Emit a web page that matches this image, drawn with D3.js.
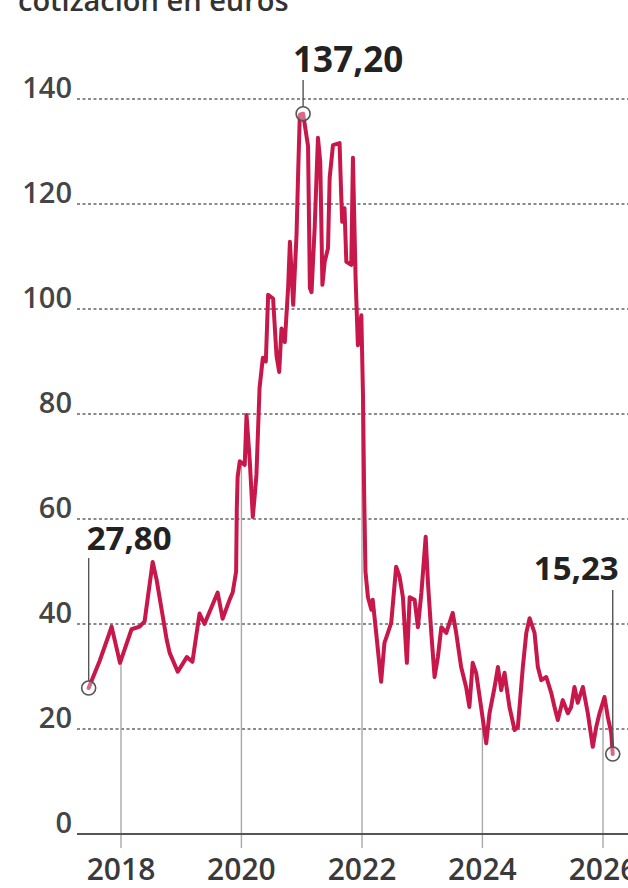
<!DOCTYPE html>
<html>
<head>
<meta charset="utf-8">
<script src="https://cdn.jsdelivr.net/npm/d3@7"></script>
<style>
  html, body { margin: 0; padding: 0; background: #fff; }
  svg { display: block; }
</style>
</head>
<body>
<svg id="chart" width="628" height="888"></svg>
<script>
// ---- Data ----
const title = "cotización en euros";
const dates = [
  "2017-06-19","2017-08-25","2017-10-20","2017-11-05","2017-12-26",
  "2018-03-06","2018-04-24","2018-05-24","2018-07-12","2018-08-05",
  "2018-10-05","2018-10-23","2018-12-11","2019-02-04","2019-03-10",
  "2019-04-22","2019-05-22","2019-08-10","2019-09-09","2019-10-21",
  "2019-11-09","2019-11-30","2019-12-04","2019-12-09","2019-12-22",
  "2020-01-21","2020-02-01","2020-02-21","2020-03-10","2020-03-22",
  "2020-04-01","2020-04-20","2020-05-10","2020-05-28","2020-06-11",
  "2020-07-11","2020-08-01","2020-08-17","2020-08-31","2020-09-20",
  "2020-10-10","2020-10-21","2020-11-10","2020-11-30","2020-12-10",
  "2020-12-20","2021-01-09","2021-02-08","2021-02-19","2021-03-01",
  "2021-03-20","2021-04-09","2021-04-23","2021-05-06","2021-05-20",
  "2021-06-09","2021-06-19","2021-07-09","2021-08-18","2021-08-28",
  "2021-09-03","2021-09-17","2021-09-28","2021-10-28","2021-11-07",
  "2021-11-23","2021-12-07","2021-12-28","2022-01-07","2022-01-14",
  "2022-01-22","2022-02-06","2022-02-27","2022-03-07","2022-03-28",
  "2022-04-27","2022-05-17","2022-06-07","2022-06-27","2022-07-27",
  "2022-08-17","2022-09-06","2022-09-30","2022-10-17","2022-11-16",
  "2022-12-06","2022-12-27","2023-01-22","2023-02-05","2023-02-25",
  "2023-03-17","2023-04-06","2023-04-27","2023-05-27","2023-07-05",
  "2023-07-26","2023-08-25","2023-09-24","2023-10-14","2023-11-03",
  "2023-11-24","2023-12-24","2024-01-24","2024-02-13","2024-03-15",
  "2024-04-04","2024-04-24","2024-05-14","2024-06-13","2024-07-14",
  "2024-08-03","2024-09-02","2024-09-23","2024-10-13","2024-11-12",
  "2024-12-02","2024-12-23","2025-01-22","2025-02-21","2025-03-13",
  "2025-04-02","2025-05-02","2025-06-02","2025-06-22","2025-07-12",
  "2025-08-01","2025-09-01","2025-10-01","2025-10-31","2025-11-21",
  "2025-12-11","2026-01-10","2026-01-30","2026-02-20","2026-03-01"
];
const prices = [
  27.8, 33.0, 38.0, 39.5, 32.6,
  39.0, 39.5, 40.5, 51.8, 48.4,
  37.0, 34.5, 30.9, 33.7, 32.8,
  42.0, 40.0, 46.0, 41.0, 44.6,
  46.0, 50.0, 62.0, 68.0, 71.0,
  70.3, 79.8, 70.9, 60.4, 64.6,
  68.4, 85.0, 90.7, 90.0, 102.7,
  102.0, 91.0, 88.0, 96.3, 93.7,
  104.0, 112.8, 100.8, 114.0, 126.0,
  137.0, 137.2, 131.0, 104.0, 103.2,
  115.4, 132.6, 128.0, 104.6, 109.0,
  111.6, 125.0, 131.2, 131.6, 121.7,
  116.6, 119.2, 109.0, 108.4, 128.8,
  106.0, 93.1, 98.8, 83.6, 65.0,
  50.0, 45.1, 42.7, 44.6, 38.3,
  29.0, 36.4, 38.3, 40.2, 50.9,
  49.0, 45.1, 32.6, 45.1, 44.6,
  39.4, 45.9, 56.6, 47.8, 38.3,
  29.9, 33.7, 39.4, 38.3, 42.1,
  38.3, 31.8, 28.0, 24.2, 32.6,
  30.7, 24.2, 17.3, 23.0, 28.0,
  31.8, 27.4, 30.7, 24.2, 19.8,
  20.4, 31.8, 38.3, 41.1, 38.3,
  31.8, 29.3, 29.9, 26.9, 24.2,
  21.7, 25.5, 23.0, 24.2, 28.0,
  25.0, 28.0, 23.0, 16.6, 20.4,
  23.0, 26.1, 22.3, 19.2, 15.23
];
const yTicks = [0, 20, 40, 60, 80, 100, 120, 140];
const yearTicks = [2018, 2020, 2022, 2024, 2026];
const highlights = [
  { date: "2017-06-19", value: 27.80, label: "27,80" },
  { date: "2021-01-09", value: 137.20, label: "137,20" },
  { date: "2026-03-01", value: 15.23, label: "15,23" }
];

// ---- Chart ----
const parse = d3.timeParse("%Y-%m-%d");
const data = dates.map((d, i) => ({ date: parse(d), value: prices[i] }));

const svg = d3.select("#chart");
const W = 628;
const left = 77;

const x = d3.scaleTime()
  .domain([new Date(2018, 0, 1), new Date(2026, 0, 1)])
  .range([121, 603]);
const y = d3.scaleLinear().domain([0, 140]).range([834, 99]);

const FONT = "'Open Sans', 'Noto Sans', sans-serif";

// title (cropped at top edge, as in the reference)
svg.append("text")
  .attr("x", 18).attr("y", 11)
  .attr("font-family", FONT).attr("font-size", 29).attr("font-weight", 600)
  .attr("fill", "#333")
  .text(title);

// gridlines
svg.append("g").selectAll("line")
  .data(yTicks.filter(t => t > 0))
  .join("line")
  .attr("x1", left).attr("x2", W)
  .attr("y1", d => y(d)).attr("y2", d => y(d))
  .attr("stroke", "#666").attr("stroke-width", 1.5)
  .attr("stroke-dasharray", "3,2.5");

// y tick labels
svg.append("g").selectAll("text")
  .data(yTicks)
  .join("text")
  .attr("x", 72).attr("y", d => y(d) - 1)
  .attr("text-anchor", "end")
  .attr("font-family", FONT).attr("font-size", 29).attr("font-weight", 600)
  .attr("fill", "#454545")
  .text(d => d);

// value at a date (linear between data points)
const bis = d3.bisector(d => d.date).left;
function valueAt(dt) {
  const i = bis(data, dt);
  if (i <= 0) return data[0].value;
  if (i >= data.length) return data[data.length - 1].value;
  const a = data[i - 1], b = data[i];
  const t = (dt - a.date) / (b.date - a.date);
  return a.value + t * (b.value - a.value);
}

// year vertical guides
svg.append("g").selectAll("line")
  .data(yearTicks)
  .join("line")
  .attr("x1", d => x(new Date(d, 0, 1))).attr("x2", d => x(new Date(d, 0, 1)))
  .attr("y1", d => y(valueAt(new Date(d, 0, 1))))
  .attr("y2", 848)
  .attr("stroke", "#a8a8a8").attr("stroke-width", 1.4);

// baseline
svg.append("line")
  .attr("x1", left).attr("x2", W)
  .attr("y1", y(0)).attr("y2", y(0))
  .attr("stroke", "#555").attr("stroke-width", 2.2);

// year labels
svg.append("g").selectAll("text")
  .data(yearTicks)
  .join("text")
  .attr("x", d => x(new Date(d, 0, 1))).attr("y", 880)
  .attr("text-anchor", "middle")
  .attr("font-family", FONT).attr("font-size", 30).attr("font-weight", 600)
  .attr("fill", "#3a3a3a")
  .text(d => d);

// price line
const line = d3.line().x(d => x(d.date)).y(d => y(d.value));
svg.append("path")
  .datum(data)
  .attr("d", line)
  .attr("fill", "none")
  .attr("stroke", "#c8174a")
  .attr("stroke-width", 4)
  .attr("stroke-linejoin", "round")
  .attr("stroke-linecap", "round");

// highlight markers, connectors and labels
const hl = highlights.map(h => ({ ...h, dt: parse(h.date) }));
const R = 7;
const labelCfg = [
  { anchor: "start", dx: -2, ty: 550, lineTop: 558, size: 33 },
  { anchor: "start", dx: -10, ty: 72, lineTop: 80, size: 35 },
  { anchor: "end", dx: 6, ty: 580, lineTop: 590, size: 33 }
];
hl.forEach((h, i) => {
  const cx = x(h.dt), cy = y(h.value), c = labelCfg[i];
  svg.append("line")
    .attr("x1", cx).attr("x2", cx)
    .attr("y1", c.lineTop).attr("y2", cy - R)
    .attr("stroke", "#555").attr("stroke-width", 1.4);
  svg.append("circle")
    .attr("cx", cx).attr("cy", cy).attr("r", R)
    .attr("fill", "rgba(255,255,255,0.35)")
    .attr("stroke", "#555").attr("stroke-width", 1.6);
  svg.append("text")
    .attr("x", cx + c.dx).attr("y", c.ty)
    .attr("text-anchor", c.anchor)
    .attr("font-family", FONT).attr("font-size", c.size).attr("font-weight", 700)
    .attr("fill", "#222")
    .text(h.label);
});
</script>
</body>
</html>
